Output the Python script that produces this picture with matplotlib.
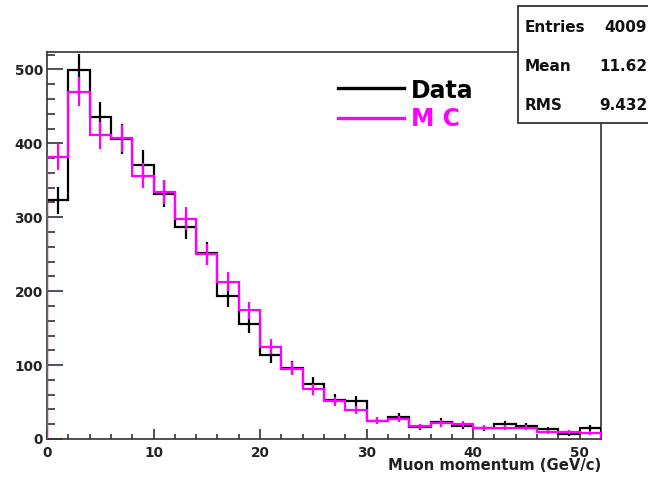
import numpy as np
import matplotlib
matplotlib.use("Agg")
import matplotlib.pyplot as plt
from matplotlib.patches import Rectangle
from matplotlib.lines import Line2D
from matplotlib.ticker import MultipleLocator

plt.rcParams['font.family'] = ['DejaVu Sans']

# Muon momentum histogram, 2 GeV/c bins from 0 to 52
bin_edges = np.arange(0, 54, 2)
data_counts = [323, 499, 435, 406, 371, 332, 287, 251, 193, 156, 113, 96, 75,
               53, 51, 25, 30, 16, 23, 18, 15, 20, 17, 13, 7, 15]
mc_counts = [382, 470, 411, 407, 356, 334, 298, 250, 213, 174, 125, 95, 67,
             51, 39, 25, 27, 17, 21, 20, 15, 15, 15, 9, 9, 8]

stat_labels = ["Entries", "Mean", "RMS"]
stat_values = ["4009", "11.62", "9.432"]
legend_labels = ["Data", "M C"]
x_title = "Muon momentum (GeV/c)"

W, H = 648, 482
fig = plt.figure(figsize=(W / 100, H / 100), dpi=100)
fig.patch.set_facecolor("white")


def fx(px):
    return px / W


def fy(py):
    return 1 - py / H


ax = fig.add_axes([fx(47), fy(439), fx(601) - fx(47), fy(52) - fy(439)])

data = np.array(data_counts, dtype=float)
mc = np.array(mc_counts, dtype=float)
centers = 0.5 * (bin_edges[:-1] + bin_edges[1:])

ax.stairs(data, bin_edges, color="black", lw=1.6, zorder=3)
ax.errorbar(centers, data, yerr=np.sqrt(data), fmt="none", ecolor="black",
            elinewidth=1.6, capsize=0, zorder=3)
ax.stairs(mc, bin_edges, color="#ff00ff", lw=1.6, zorder=4)
ax.errorbar(centers, mc, yerr=0.9 * np.sqrt(mc), fmt="none", ecolor="#ff00ff",
            elinewidth=1.6, capsize=0, zorder=4)

ax.set_xlim(0, 52)
ax.set_ylim(0, 523.5)

ax.xaxis.set_major_locator(MultipleLocator(10))
ax.xaxis.set_minor_locator(MultipleLocator(2))
ax.yaxis.set_major_locator(MultipleLocator(100))
ax.yaxis.set_minor_locator(MultipleLocator(20))

frame_col = "#333333"
for s in ax.spines.values():
    s.set_color(frame_col)
    s.set_linewidth(1.2)

ax.tick_params(axis="both", which="both", direction="in", top=False, right=False,
               color=frame_col, width=1.2)
ax.tick_params(axis="y", which="major", length=11.3, pad=3)
ax.tick_params(axis="y", which="minor", length=5.4)
ax.tick_params(axis="x", which="major", length=7.3, pad=5)
ax.tick_params(axis="x", which="minor", length=3.7)

for lab in ax.get_xticklabels() + ax.get_yticklabels():
    lab.set_fontweight("bold")
    lab.set_fontsize(9.8)
    lab.set_color("#222222")

fig.text(fx(601), fy(466), x_title, ha="right", va="center",
         fontsize=10.7, fontweight="bold", color="#222222")

# Legend drawn by hand, ROOT style
leg_specs = [("black", 88, 98), ("#ff00ff", 118, 126)]
for (col, ly, by), lab in zip(leg_specs, legend_labels):
    fig.add_artist(Line2D([fx(338), fx(404)], [fy(ly), fy(ly)], color=col, lw=2.4))
    fig.text(fx(411), fy(by), lab, ha="left", va="baseline", fontsize=17,
             fontweight="bold", color=col)

# Statistics box
box = Rectangle((fx(518), fy(123)), fx(665) - fx(518), fy(6) - fy(123),
                transform=fig.transFigure, facecolor="white", edgecolor=frame_col,
                lw=1.3, zorder=10)
fig.add_artist(box)
for i, (lab, val) in enumerate(zip(stat_labels, stat_values)):
    yy = fy(27 + 39.5 * i)
    fig.text(fx(525), yy, lab, ha="left", va="center", fontsize=11,
             fontweight="bold", color="#111111", zorder=11)
    fig.text(fx(647), yy, val, ha="right", va="center", fontsize=11,
             fontweight="bold", color="#111111", zorder=11)

fig.savefig("out.png", dpi=100)
